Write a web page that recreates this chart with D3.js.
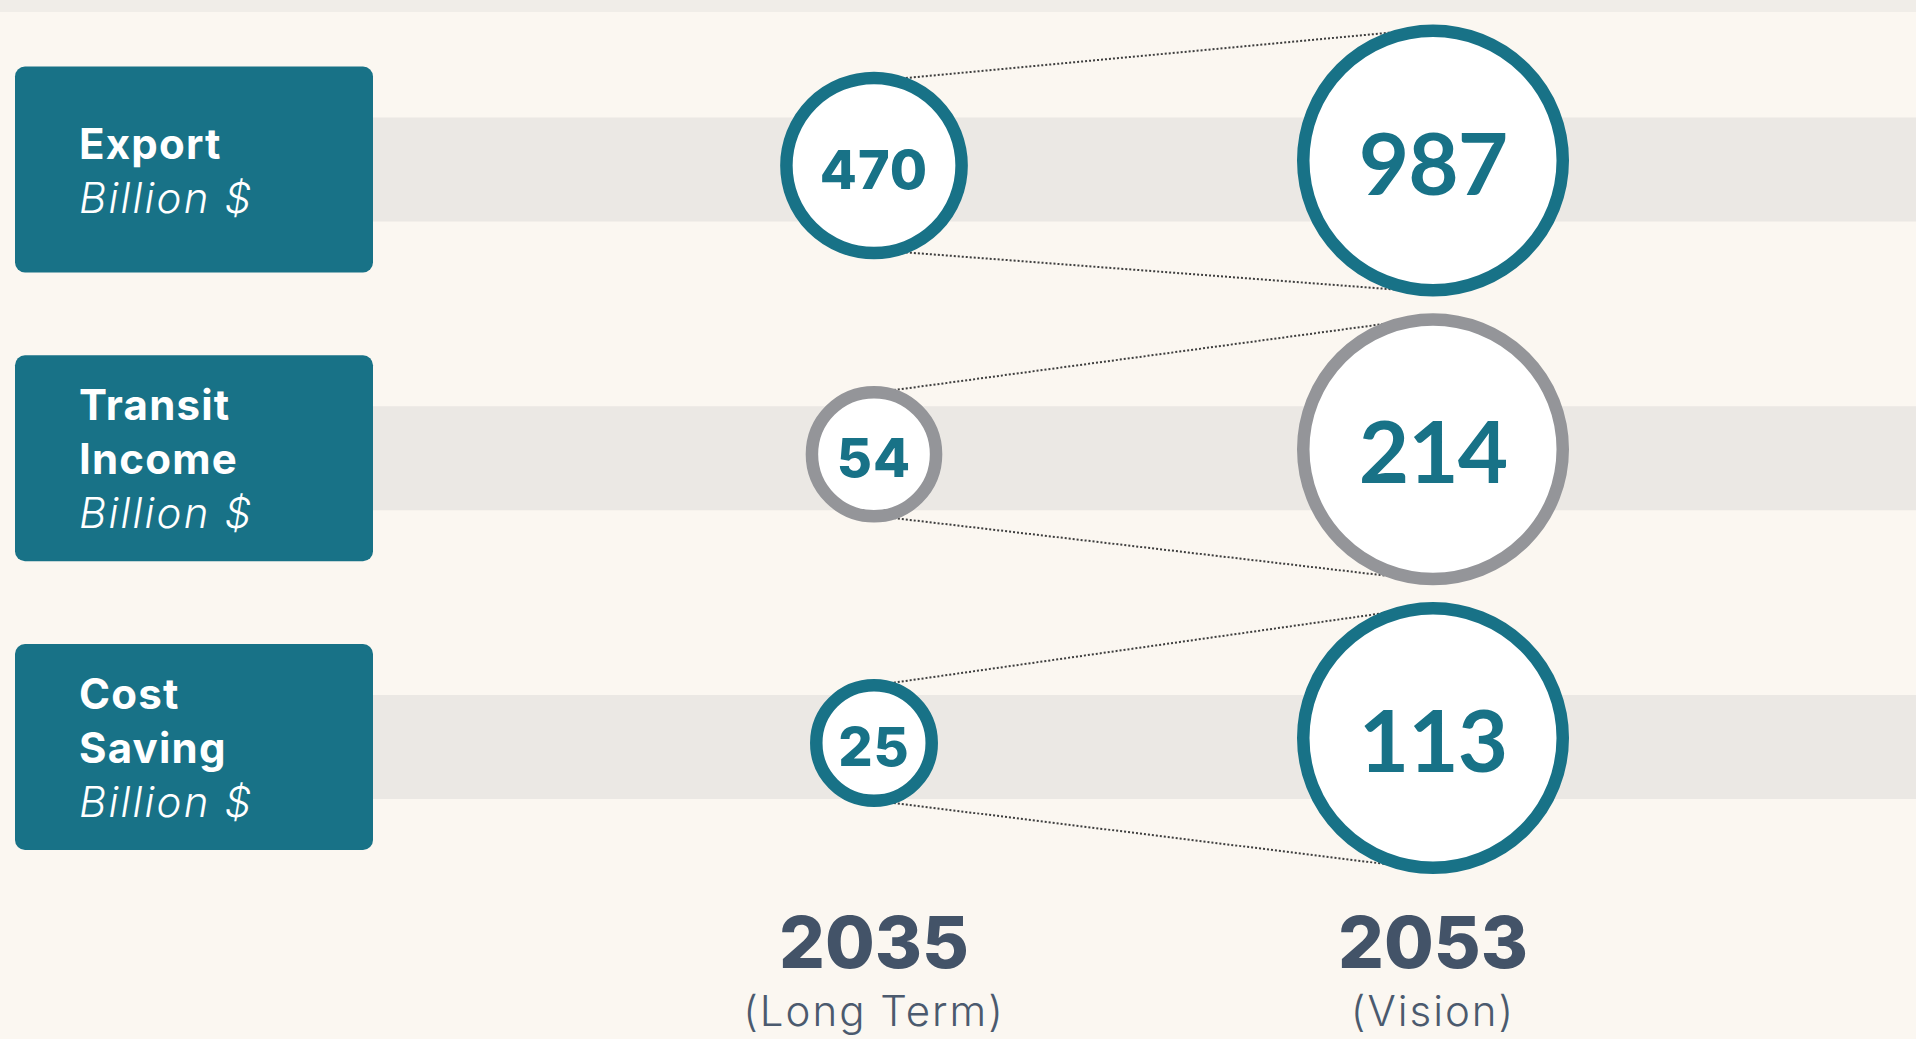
<!DOCTYPE html>
<html>
<head>
<meta charset="utf-8">
<script src="https://cdn.jsdelivr.net/npm/d3@7"></script>
<style>
  html, body { margin: 0; padding: 0; background: #fbf7f1; overflow: hidden; }
  svg { display: block; }
</style>
</head>
<body>
<svg id="chart" width="1916" height="1039"></svg>
<script>
// ---- data ----
const categories = ["Export", "Transit Income", "Cost Saving"];
const labelLines = [["Export"], ["Transit", "Income"], ["Cost", "Saving"]];
const unitLabel = "Billion $";
const periods = ["2035", "2053"];
const periodNotes = ["(Long Term)", "(Vision)"];
const values2035 = [470, 54, 25];
const values2053 = [987, 214, 113];
const highlightCategory = "Transit Income";

// ---- styling ----
const W = 1916, H = 1039;
const TEAL = "#187287", GRAY = "#949599", SLATE = "#435368";
const RING = 12.5;

const svg = d3.select("#chart");

svg.append("rect").attr("width", W).attr("height", H).attr("fill", "#fbf7f1");
svg.append("rect").attr("width", W).attr("height", 12).attr("fill", "#f0ede8");

const y = d3.scalePoint().domain(categories).range([169.5, 747]);
const x = d3.scalePoint().domain(periods).range([874, 1433]);
const colOffset = { "2035": -4, "2053": -9 };

const rows = categories.map((c, i) => ({
  cat: c, lines: labelLines[i], v: [values2035[i], values2053[i]]
}));

// bands
svg.append("g").selectAll("rect").data(rows).join("rect")
  .attr("x", 373).attr("width", W - 373)
  .attr("y", d => y(d.cat) - 52).attr("height", 104)
  .attr("fill", "#ebe8e4");

// label boxes
const box = svg.append("g").selectAll("g").data(rows).join("g");
box.append("rect")
  .attr("x", 15).attr("width", 358)
  .attr("y", d => y(d.cat) - 103).attr("height", 206)
  .attr("rx", 10).attr("fill", TEAL);
box.each(function(d) {
  const g = d3.select(this);
  const all = d.lines.concat([unitLabel]);
  const n = all.length;
  all.forEach((t, i) => {
    const isUnit = i === n - 1;
    g.append("text")
      .attr("x", 79)
      .attr("y", y(d.cat) + 16 + (i - (n - 1) / 2) * 54)
      .attr("fill", "#ffffff")
      .attr("font-family", "Inter, 'Open Sans', sans-serif")
      .attr("font-size", 42)
      .attr("letter-spacing", isUnit ? 2.2 : 1.2)
      .attr("font-weight", isUnit ? 300 : 700)
      .attr("font-style", isUnit ? "italic" : "normal")
      .text(t);
  });
});

// circles + connectors
const bubbles = svg.append("g");
rows.forEach(d => {
  const r = d3.scaleSqrt().domain([0, d3.max(d.v)]).range([0, 136]);
  const col = d.cat === highlightCategory ? GRAY : TEAL;
  const pts = periods.map((p, j) => ({
    p, v: d.v[j],
    cx: x(p), cy: y(d.cat) + colOffset[p], R: r(d.v[j])
  }));
  const [a, b] = pts;
  const g = bubbles.append("g");
  // dotted connectors (drawn beneath circles)
  [-1, 1].forEach(s => {
    g.append("line")
      .attr("x1", a.cx).attr("y1", a.cy + s * 0.9 * a.R)
      .attr("x2", b.cx).attr("y2", b.cy + s * 0.97 * b.R)
      .attr("stroke", "#3e3e3e").attr("stroke-width", 2)
      .attr("stroke-dasharray", "2,2");
  });
  g.selectAll("circle").data(pts).join("circle")
    .attr("cx", q => q.cx).attr("cy", q => q.cy)
    .attr("r", q => q.R - RING / 2)
    .attr("fill", "#ffffff").attr("stroke", col).attr("stroke-width", RING);
  g.selectAll("text").data(pts).join("text")
    .attr("x", q => q.cx)
    .attr("y", (q, j) => q.cy + (j === 0 ? 23 : 34))
    .attr("text-anchor", "middle")
    .attr("fill", TEAL)
    .attr("font-family", (q, j) => j === 0 ? "Inter, sans-serif" : "Lato, 'Open Sans', sans-serif")
    .attr("font-weight", (q, j) => j === 0 ? 800 : 700)
    .attr("font-size", (q, j) => j === 0 ? 54 : 87)
    .attr("letter-spacing", (q, j) => j === 0 ? 1 : -1)
    .text(q => q.v);
});

// period labels
const per = svg.append("g").selectAll("g").data(periods).join("g");
per.append("text")
  .attr("x", p => x(p)).attr("y", 968)
  .attr("text-anchor", "middle").attr("fill", SLATE)
  .attr("font-family", "Inter, sans-serif").attr("font-weight", 800)
  .attr("font-size", 72)
  .text(p => p);
per.append("text")
  .attr("x", p => x(p)).attr("y", 1026)
  .attr("text-anchor", "middle").attr("fill", "#4b5a6e")
  .attr("font-family", "Inter, sans-serif").attr("font-weight", 300)
  .attr("font-size", 42)
  .attr("letter-spacing", 2)
  .text((p, i) => periodNotes[i]);
</script>
</body>
</html>
